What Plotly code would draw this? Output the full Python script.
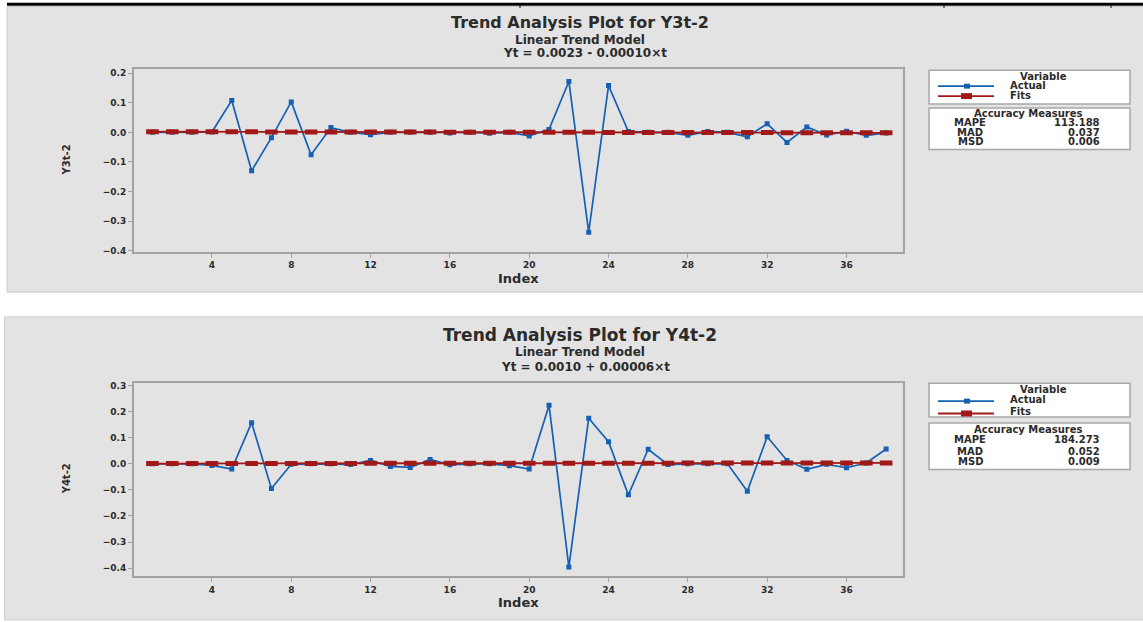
import plotly.graph_objects as go

W, H = 1143, 622

# ---------------- data ----------------
index = list(range(1, 39))

y3_actual = [0.000, 0.000, 0.000, 0.001, 0.108, -0.130, -0.018, 0.103, -0.076, 0.016,
             0.000, -0.008, 0.000, 0.000, 0.000, -0.002, 0.000, -0.003, 0.000, -0.012,
             0.010, 0.172, -0.338, 0.158, 0.003, 0.000, 0.000, -0.010, 0.003, 0.000,
             -0.015, 0.029, -0.034, 0.018, -0.009, 0.004, -0.010, -0.002]
y3_fits = [0.0022, 0.0021, 0.0020, 0.0019, 0.0018, 0.0017, 0.0016, 0.0015, 0.0014, 0.0013,
           0.0012, 0.0011, 0.0010, 0.0009, 0.0008, 0.0007, 0.0006, 0.0005, 0.0004, 0.0003,
           0.0002, 0.0001, 0.0000, -0.0001, -0.0002, -0.0003, -0.0004, -0.0005, -0.0006, -0.0007,
           -0.0008, -0.0009, -0.0010, -0.0011, -0.0012, -0.0013, -0.0014, -0.0015]

y4_actual = [0.000, 0.000, 0.000, -0.006, -0.020, 0.158, -0.095, -0.002, 0.000, 0.000,
             -0.003, 0.013, -0.010, -0.014, 0.017, -0.004, 0.000, 0.000, -0.007, -0.020,
             0.225, -0.396, 0.175, 0.085, -0.119, 0.056, -0.003, 0.000, 0.000, 0.000,
             -0.105, 0.104, 0.013, -0.021, -0.002, -0.015, 0.003, 0.057]
y4_fits = [0.00106, 0.00112, 0.00118, 0.00124, 0.00130, 0.00136, 0.00142, 0.00148, 0.00154, 0.00160,
           0.00166, 0.00172, 0.00178, 0.00184, 0.00190, 0.00196, 0.00202, 0.00208, 0.00214, 0.00220,
           0.00226, 0.00232, 0.00238, 0.00244, 0.00250, 0.00256, 0.00262, 0.00268, 0.00274, 0.00280,
           0.00286, 0.00292, 0.00298, 0.00304, 0.00310, 0.00316, 0.00322, 0.00328]

x_ticks = [4, 8, 12, 16, 20, 24, 28, 32, 36]
y3_ticks = [-0.4, -0.3, -0.2, -0.1, 0.0, 0.1, 0.2]
y4_ticks = [-0.4, -0.3, -0.2, -0.1, 0.0, 0.1, 0.2, 0.3]

titles3 = ["Trend Analysis Plot for Y3t-2", "Linear Trend Model", "Yt = 0.0023 - 0.00010×t"]
titles4 = ["Trend Analysis Plot for Y4t-2", "Linear Trend Model", "Yt = 0.0010 + 0.00006×t"]
acc3 = [("MAPE", "113.188"), ("MAD", "0.037"), ("MSD", "0.006")]
acc4 = [("MAPE", "184.273"), ("MAD", "0.052"), ("MSD", "0.009")]

# ---------------- style ----------------
BLUE = "#1461B4"
RED = "#A01818"
PANEL = "#E3E3E3"
AXC = "#A3A3A3"
TXT = "#2B2B2B"
FONT = "DejaVu Sans"


def px(x):
    return x / W


def py(y):
    return 1 - y / H


fig = go.Figure()

for ax, ya, yf in (("", y3_actual, y3_fits), ("2", y4_actual, y4_fits)):
    fig.add_trace(go.Scatter(
        x=index, y=ya, mode="lines+markers", name="Actual",
        xaxis="x" + ax, yaxis="y" + ax, showlegend=False,
        line=dict(color=BLUE, width=1.7),
        marker=dict(symbol="square", size=5, color=BLUE)))
    fig.add_trace(go.Scatter(
        x=index, y=yf, mode="lines+markers", name="Fits",
        xaxis="x" + ax, yaxis="y" + ax, showlegend=False,
        line=dict(color=RED, width=1.8),
        marker=dict(symbol="line-ew", size=9, color=RED,
                    line=dict(color=RED, width=5))))

xdom = [px(134), px(903)]
axis_common = dict(showgrid=False, zeroline=False, showline=True, linecolor=AXC,
                   linewidth=2, mirror=True, ticks="outside", ticklen=4,
                   tickcolor=AXC, tickwidth=1,
                   tickfont=dict(family=FONT, size=9, color=TXT, weight="bold"))

fig.update_layout(
    width=W, height=H,
    margin=dict(l=0, r=0, t=0, b=0),
    paper_bgcolor="white", plot_bgcolor="white",
    xaxis=dict(domain=xdom, anchor="y", range=[0.07, 38.85], tickvals=x_ticks, **axis_common),
    yaxis=dict(domain=[py(252), py(68)], anchor="x", range=[-0.403, 0.213],
               tickvals=y3_ticks, tickformat=".1f", **axis_common),
    xaxis2=dict(domain=xdom, anchor="y2", range=[0.07, 38.85], tickvals=x_ticks, **axis_common),
    yaxis2=dict(domain=[py(580), py(385)], anchor="x2", range=[-0.432, 0.309],
                tickvals=y4_ticks, tickformat=".1f", **axis_common),
)

shapes = []
# document rule at top
shapes.append(dict(type="line", xref="paper", yref="paper", x0=px(7), x1=1, y0=py(2.2), y1=py(2.2),
                   line=dict(color="black", width=3), layer="above"))
for tx in (520, 944, 1111):
    shapes.append(dict(type="line", xref="paper", yref="paper", x0=px(tx), x1=px(tx),
                       y0=py(2), y1=py(6), line=dict(color="black", width=1), layer="above"))
# grey panels
shapes.append(dict(type="rect", xref="paper", yref="paper", x0=px(7), x1=1.01, y0=py(293), y1=py(4.5),
                   fillcolor=PANEL, line=dict(color="#CDCDCD", width=1), layer="below"))
shapes.append(dict(type="rect", xref="paper", yref="paper", x0=px(4.5), x1=1.01, y0=py(624), y1=py(318),
                   fillcolor=PANEL, line=dict(color="#CDCDCD", width=1), layer="below"))

annotations = []


def text(x, y, s, size, anchor="center", bold=True, family=FONT, angle=0):
    annotations.append(dict(x=px(x), y=py(y), xref="paper", yref="paper", text=s, showarrow=False,
                            xanchor=anchor, yanchor="middle", textangle=angle,
                            font=dict(family=family, size=size, color=TXT,
                                      weight="bold" if bold else "normal")))


def panel(title_lines, ys, big, ylab, ylab_y, index_y, box1, box2, leg_rows, acc_rows, acc):
    text(580, ys[0], title_lines[0], big)
    text(580, ys[1], title_lines[1], 12)
    text(585, ys[2], title_lines[2], 12)
    text(66, ylab_y, ylab, 10, angle=-90)
    text(518, index_y, "Index", 13)
    for (y0, y1) in (box1, box2):
        shapes.append(dict(type="rect", xref="paper", yref="paper", x0=px(929), x1=px(1130),
                           y0=py(y1), y1=py(y0), fillcolor="white",
                           line=dict(color="#A8A8A8", width=1.5), layer="above"))
    vy, ay, fy, bly, rly = leg_rows
    text(1043, vy, "Variable", 10)
    text(1008, ay, "Actual", 10, anchor="left")
    text(1008, fy, "Fits", 10, anchor="left")
    shapes.append(dict(type="line", xref="paper", yref="paper", x0=px(938), x1=px(994),
                       y0=py(bly), y1=py(bly), line=dict(color=BLUE, width=1.8), layer="above"))
    shapes.append(dict(type="rect", xref="paper", yref="paper", x0=px(964), x1=px(970),
                       y0=py(bly + 2.5), y1=py(bly - 2.5), fillcolor=BLUE, line=dict(width=0), layer="above"))
    shapes.append(dict(type="line", xref="paper", yref="paper", x0=px(938), x1=px(994),
                       y0=py(rly), y1=py(rly), line=dict(color=RED, width=1.8), layer="above"))
    shapes.append(dict(type="rect", xref="paper", yref="paper", x0=px(961), x1=px(972),
                       y0=py(rly + 3), y1=py(rly - 3), fillcolor=RED, line=dict(width=0), layer="above"))
    hy = acc_rows[0]
    text(1028, hy, "Accuracy Measures", 10)
    for (name, val), ry in zip(acc, acc_rows[1:]):
        text(970, ry, name, 10)
        text(1102, ry, val, 10, anchor="right")


panel(titles3, (21, 38, 52), 16, "Y3t-2", 160, 279, (69, 103), (107, 149),
      (75, 84.5, 94.5, 85, 95), (113, 122, 132, 141), acc3)
panel(titles4, (336, 353, 369), 17, "Y4t-2", 482, 606, (385, 419), (425, 472),
      (391, 401.5, 413.5, 403, 415.5), (432, 442, 454, 464), acc4)

fig.update_layout(shapes=shapes, annotations=annotations)
fig.write_html("out.html", config={"displayModeBar": False},
               post_script="document.body.style.margin='0';document.body.style.overflow='hidden';")
